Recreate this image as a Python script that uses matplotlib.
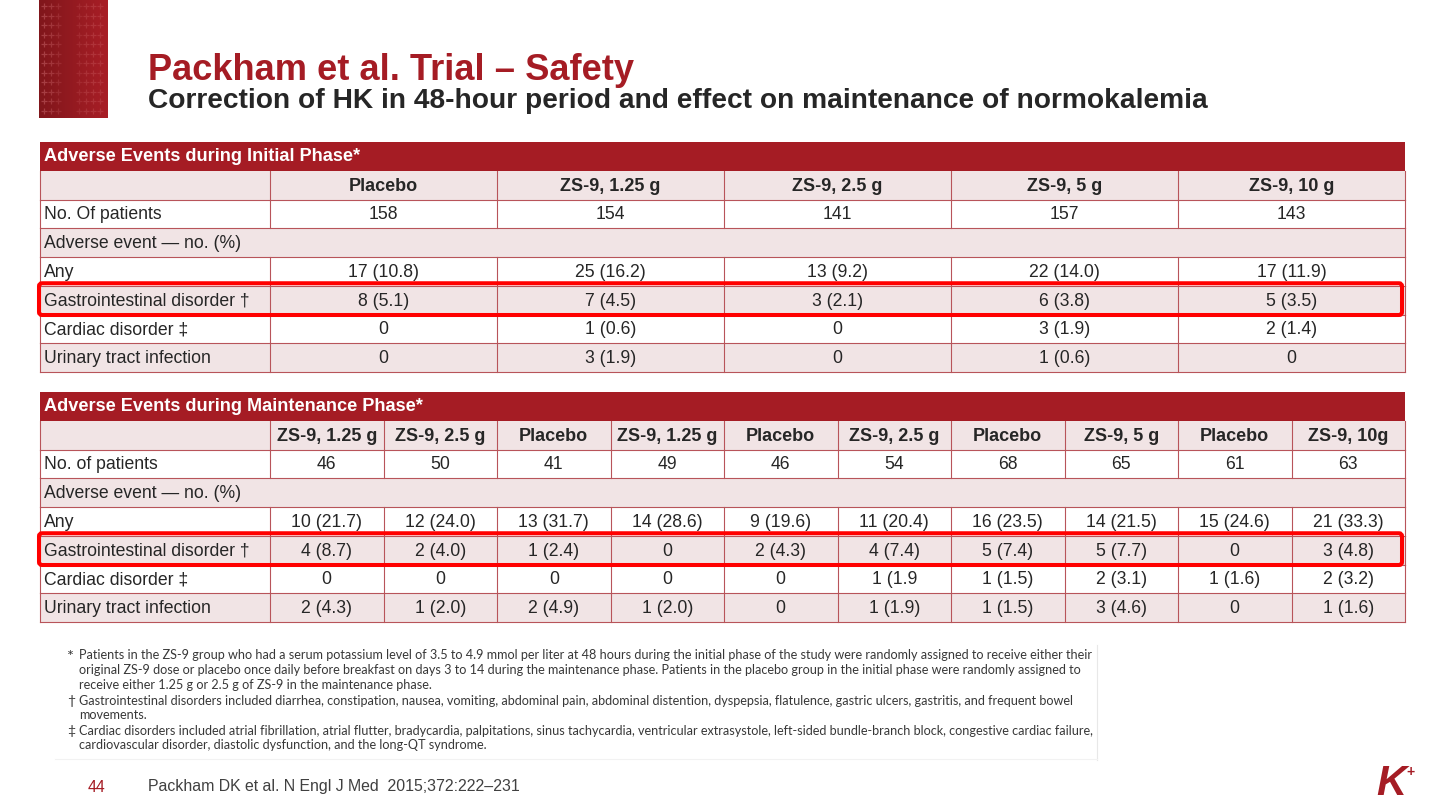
import numpy as np
import matplotlib
matplotlib.use("Agg")
import matplotlib.pyplot as plt
from matplotlib.patches import Rectangle, FancyBboxPatch
from matplotlib import font_manager

# ---------------- data ----------------
title = "Packham et al. Trial \u2013 Safety"
subtitle = "Correction of HK in 48-hour period and effect on maintenance of normokalemia"

row_labels_init = ["No. Of patients", "Adverse event \u2014 no. (%)", "Any",
                   "Gastrointestinal disorder \u2020", "Cardiac disorder \u2021",
                   "Urinary tract infection"]
row_labels_maint = ["No. of patients", "Adverse event \u2014 no. (%)", "Any",
                    "Gastrointestinal disorder \u2020", "Cardiac disorder \u2021",
                    "Urinary tract infection"]

init_cols = ["Placebo", "ZS-9, 1.25 g", "ZS-9, 2.5 g", "ZS-9, 5 g", "ZS-9, 10 g"]
init_patients = ["158", "154", "141", "157", "143"]
init_any = ["17 (10.8)", "25 (16.2)", "13 (9.2)", "22 (14.0)", "17 (11.9)"]
init_gi = ["8 (5.1)", "7 (4.5)", "3 (2.1)", "6 (3.8)", "5 (3.5)"]
init_cardiac = ["0", "1 (0.6)", "0", "3 (1.9)", "2 (1.4)"]
init_uti = ["0", "3 (1.9)", "0", "1 (0.6)", "0"]

maint_cols = ["ZS-9, 1.25 g", "ZS-9, 2.5 g", "Placebo", "ZS-9, 1.25 g", "Placebo",
              "ZS-9, 2.5 g", "Placebo", "ZS-9, 5 g", "Placebo", "ZS-9, 10g"]
maint_patients = ["46", "50", "41", "49", "46", "54", "68", "65", "61", "63"]
maint_any = ["10 (21.7)", "12 (24.0)", "13 (31.7)", "14 (28.6)", "9 (19.6)",
             "11 (20.4)", "16 (23.5)", "14 (21.5)", "15 (24.6)", "21 (33.3)"]
maint_gi = ["4 (8.7)", "2 (4.0)", "1 (2.4)", "0", "2 (4.3)", "4 (7.4)",
            "5 (7.4)", "5 (7.7)", "0", "3 (4.8)"]
maint_cardiac = ["0", "0", "0", "0", "0", "1 (1.9", "1 (1.5)", "2 (3.1)", "1 (1.6)", "2 (3.2)"]
maint_uti = ["2 (4.3)", "1 (2.0)", "2 (4.9)", "1 (2.0)", "0", "1 (1.9)",
             "1 (1.5)", "3 (4.6)", "0", "1 (1.6)"]

footnote_marks = ["*", "", "", "\u2020", "", "\u2021", ""]
footnote_lines = [
    "Patients in the ZS-9 group who had a serum potassium level of 3.5 to 4.9 mmol per liter at 48 hours during the initial phase of the study were randomly assigned to receive either their",
    "original ZS-9 dose or placebo once daily before breakfast on days 3 to 14 during the maintenance phase. Patients in the placebo group in the initial phase were randomly assigned to",
    "receive either 1.25 g or 2.5 g of ZS-9 in the maintenance phase.",
    "Gastrointestinal disorders included diarrhea, constipation, nausea, vomiting, abdominal pain, abdominal distention, dyspepsia, flatulence, gastric ulcers, gastritis, and frequent bowel",
    "movements.",
    "Cardiac disorders included atrial fibrillation, atrial flutter, bradycardia, palpitations, sinus tachycardia, ventricular extrasystole, left-sided bundle-branch block, congestive cardiac failure,",
    "cardiovascular disorder, diastolic dysfunction, and the long-QT syndrome.",
]
page_number = "44"
citation = "Packham DK et al. N Engl J Med  2015;372:222\u2013231"

# ---------------- style ----------------
RED = "#A51C24"
PINK = "#F1E4E5"
LINE = "#B8545A"
TXT = "#262626"
HILITE = "#FF0000"
FONT = ["Liberation Sans", "DejaVu Sans"]
names = {f.name for f in font_manager.fontManager.ttflist}
NARROW = ["Liberation Sans Narrow", "Liberation Sans", "DejaVu Sans"] if "Liberation Sans Narrow" in names else FONT
FOOT = ["Lato", "DejaVu Sans"] if "Lato" in names else FONT

W, H = 1440, 810
fig = plt.figure(figsize=(14.4, 8.1), dpi=100)
ax = fig.add_axes([0, 0, 1, 1])
renderer = fig.canvas.get_renderer()


def fit_size(s, target, weight="normal", family=FONT, base=12.0):
    t = ax.text(0, 0, s, fontsize=base, fontweight=weight, family=family)
    w = t.get_window_extent(renderer).width
    t.remove()
    return base * target / w


# ---------------- decorative block ----------------
gx = np.linspace(0, 1, 60)
c0 = np.array([0x80, 0x16, 0x1B]) / 255.0
c1 = np.array([0xA8, 0x1E, 0x26]) / 255.0
grad = c0[None, None, :] * (1 - gx[None, :, None]) + c1[None, None, :] * gx[None, :, None]
grad = np.repeat(grad, 10, axis=0)
ax.imshow(grad, extent=[39, 108, 118, 0], aspect="auto", zorder=1)
plus_cols = [44, 51, 58, 79, 86, 93, 100]
plus_alpha = [0.35, 0.28, 0.18, 0.15, 0.2, 0.22, 0.2]
for px, pa in zip(plus_cols, plus_alpha):
    ys = np.arange(6, 116, 9.5)
    ax.plot(np.full_like(ys, px), ys, ls="none", marker="+", ms=4.0, mew=0.9,
            color="#E8868B", alpha=pa, zorder=2)

# ---------------- title ----------------
ax.text(148, 80, title, fontsize=fit_size(title, 483, "bold"), fontweight="bold",
        family=FONT, color=RED, va="baseline", ha="left")
ax.text(148, 108, subtitle, fontsize=fit_size(subtitle, 1055, "bold"), fontweight="bold",
        family=FONT, color=TXT, va="baseline", ha="left")

# ---------------- tables ----------------
body_fs = fit_size("Gastrointestinal disorder \u2020", 207)
head_fs = fit_size("ZS-9, 1.25 g", 100, "bold")
band_fs = fit_size("Adverse Events during Initial Phase*", 314, "bold")


def draw_table(y0, band_title, cols, labels, rows, x0=40, xsplit=270, x1=1405, rh=28.75):
    ncol = len(cols)
    xs = xsplit + (x1 - xsplit) / ncol * np.arange(ncol + 1)
    # band
    ax.add_patch(Rectangle((x0, y0), x1 - x0, rh, facecolor=RED, edgecolor="none", zorder=3))
    ax.text(x0 + 4, y0 + rh / 2 + 0.5, band_title, fontsize=band_fs, fontweight="bold",
            family=FONT, color="white", va="center", ha="left", zorder=5)
    all_rows = [("", cols, True)] + [(lab, vals, False) for lab, vals in zip(labels, rows)]
    for i, (lab, vals, is_head) in enumerate(all_rows):
        ytop = y0 + rh * (i + 1)
        yc = ytop + rh / 2 + 1
        fc = PINK if i % 2 == 0 else "white"
        ax.add_patch(Rectangle((x0, ytop), x1 - x0, rh, facecolor=fc, edgecolor="none", zorder=3))
        ax.plot([x0, x1], [ytop + rh, ytop + rh], color=LINE, lw=0.8, zorder=4)
        ax.plot([x0, x0], [ytop, ytop + rh], color=LINE, lw=0.8, zorder=4)
        ax.plot([x1, x1], [ytop, ytop + rh], color=LINE, lw=0.8, zorder=4)
        if lab:
            ax.text(x0 + 4, yc, lab, fontsize=body_fs, family=FONT, color=TXT,
                    va="center", ha="left", zorder=5)
        if vals is None:
            continue
        for xv in xs[:-1]:
            ax.plot([xv, xv], [ytop, ytop + rh], color=LINE, lw=0.8, zorder=4)
        for j, v in enumerate(vals):
            ax.text((xs[j] + xs[j + 1]) / 2, yc, v,
                    fontsize=head_fs if is_head else body_fs,
                    fontweight="bold" if is_head else "normal",
                    family=FONT, color=TXT, va="center", ha="center", zorder=5)
    # highlight box around the gastrointestinal row
    gi_top = y0 + rh * 5
    ax.add_patch(FancyBboxPatch((x0 - 1, gi_top - 2.5), x1 - x0 - 2, rh + 3,
                                boxstyle="round,pad=0,rounding_size=3",
                                fill=False, edgecolor=HILITE, lw=2.9, zorder=6))


draw_table(142, "Adverse Events during Initial Phase*", init_cols, row_labels_init,
           [init_patients, None, init_any, init_gi, init_cardiac, init_uti])
draw_table(392, "Adverse Events during Maintenance Phase*", maint_cols, row_labels_maint,
           [maint_patients, None, maint_any, maint_gi, maint_cardiac, maint_uti])

# ---------------- footnotes ----------------
foot_fs = fit_size(footnote_lines[0], 1004, family=FOOT)
foot_base = [659, 674, 689, 705, 719, 735, 749]
for mk, line, yy in zip(footnote_marks, footnote_lines, foot_base):
    if mk:
        ax.text(67, yy + (2 if mk == "*" else 0), mk,
                fontsize=foot_fs * (1.3 if mk == "*" else 1.1), family=FOOT,
                color="#383838", va="baseline", ha="left")
    ax.text(79, yy, line, fontsize=foot_fs, family=FOOT, color="#383838",
            va="baseline", ha="left")
ax.plot([1097, 1097], [645, 760], color="#E8E8E8", lw=0.8)
ax.plot([55, 1097], [759, 759], color="#F2F2F2", lw=0.8)

# ---------------- footer ----------------
cit_fs = fit_size(citation, 373, family=NARROW)
ax.text(88, 787, page_number, fontsize=cit_fs, family=NARROW, color=RED,
        va="center", ha="left")
ax.text(148, 787, citation, fontsize=cit_fs, family=NARROW, color="#404040",
        va="center", ha="left")

# K+ logo
ax.text(1376, 795, "K", fontsize=30, fontweight="bold", family=FONT, color=RED,
        va="baseline", ha="left", style="italic")
ax.text(1406, 772, "+", fontsize=10, fontweight="bold", family=FONT, color=RED,
        va="center", ha="left")

ax.set_xlim(0, W)
ax.set_ylim(H, 0)
ax.axis("off")
fig.savefig("out.png", dpi=100, facecolor="white")
